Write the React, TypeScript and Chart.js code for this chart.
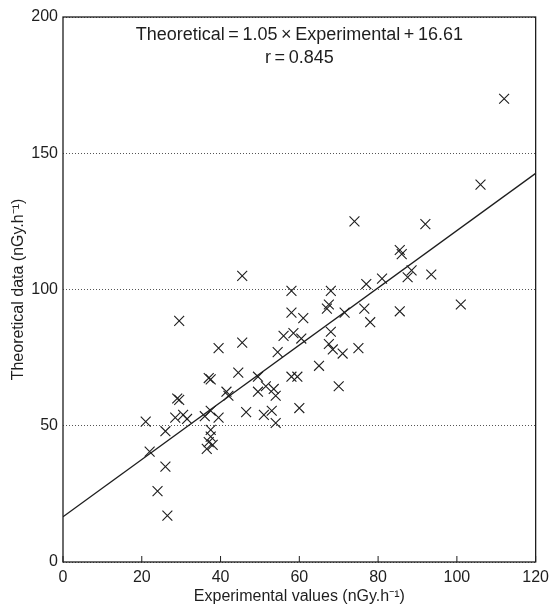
import React, { useEffect, useRef } from "react";
import { Chart, registerables } from "chart.js";

Chart.register(...registerables);

const expValues = [
  112, 106, 74, 92, 85.5, 86, 88.5, 87.5, 93.5, 81, 77, 101,
  45.5, 58, 68, 29.5, 58, 67.5, 67, 71.5, 76.5, 85.5, 78, 61,
  56, 58.5, 60.5, 68, 67.5, 68.5, 71, 75, 54.5, 65, 58, 59.5,
  70, 60, 39.5, 45.5, 44.5, 37, 37.5, 49.5, 41.5, 42, 49.5, 51.5,
  53.5, 54, 29, 29.5, 28.5, 30.5, 31.5, 36, 37.5, 39.5, 46.5, 51,
  53, 54, 21, 26, 37.5, 37.5, 37, 36.5, 38, 22, 26, 24, 26.5,
];
const theoValues = [
  170, 138.5, 125, 124, 114.5, 113, 107, 104.5, 105.5, 104, 102, 94.5,
  105, 99.5, 99.5, 88.5, 91.5, 94.5, 93, 91.5, 93, 92, 88, 89.5,
  83, 84, 82, 84.5, 80, 78, 76.5, 78.5, 77, 72, 68, 68,
  64.5, 56.5, 78.5, 80.5, 69.5, 67.5, 67, 68, 62.5, 61, 62.5, 64.5,
  63.5, 61, 60, 59.5, 53, 54, 52.5, 53.5, 55.5, 53, 55, 54,
  55.5, 51, 51.5, 48, 48.5, 46, 44, 41.5, 43, 40.5, 35, 26, 17,
];

// Regression line end points (Theoretical = 1.05 x Experimental + 16.61)
const fitX = [0, 120];
const fitY = [16.61, 142.61];

const xTickValues = [0, 20, 40, 60, 80, 100, 120];
const yTickValues = [0, 50, 100, 150, 200];

const equationText = "Theoretical\u2009=\u20091.05\u2009×\u2009Experimental\u2009+\u200916.61";
const correlationText = "r\u2009=\u20090.845";
const xTitle = "Experimental values (nGy.h⁻¹)";
const yTitle = "Theoretical data (nGy.h⁻¹)";

const FONT = '"Liberation Sans", Arial, Helvetica, sans-serif';
const INK = "#1e1e1e";

const framePlugin = {
  id: "frameAndLabels",
  afterDraw(chart: any) {
    const { ctx, chartArea: a, scales } = chart;
    ctx.save();
    ctx.strokeStyle = INK;
    ctx.lineWidth = 1.3;
    ctx.setLineDash([]);
    ctx.strokeRect(a.left, a.top, a.right - a.left, a.bottom - a.top);
    ctx.lineWidth = 1;
    xTickValues.forEach((v) => {
      const px = scales.x.getPixelForValue(v);
      ctx.beginPath();
      ctx.moveTo(px, a.bottom);
      ctx.lineTo(px, a.bottom - 6);
      ctx.stroke();
    });
    ctx.fillStyle = INK;
    ctx.font = `18px ${FONT}`;
    ctx.textAlign = "center";
    ctx.textBaseline = "middle";
    const cx = scales.x.getPixelForValue(60);
    ctx.fillText(equationText, cx, a.top + 18);
    ctx.fillText(correlationText, cx, a.top + 41);
    ctx.restore();
  },
};

export default function App() {
  const canvasRef = useRef<HTMLCanvasElement | null>(null);

  useEffect(() => {
    const canvas = canvasRef.current;
    if (!canvas) return;
    const points = expValues.map((x, i) => ({ x, y: theoValues[i] }));
    const fitPoints = fitX.map((x, i) => ({ x, y: fitY[i] }));

    const chart = new Chart(canvas, {
      type: "scatter",
      data: {
        datasets: [
          {
            type: "line",
            data: fitPoints,
            borderColor: INK,
            borderWidth: 1.3,
            pointRadius: 0,
            fill: false,
            order: 2,
          } as any,
          {
            type: "scatter",
            data: points,
            pointStyle: "crossRot",
            pointRadius: 7,
            pointBorderWidth: 1.1,
            borderColor: INK,
            backgroundColor: INK,
            order: 1,
          } as any,
        ],
      },
      options: {
        responsive: false,
        animation: false,
        layout: { padding: { top: 17, right: 19, left: 0, bottom: 0 } },
        plugins: {
          legend: { display: false },
          tooltip: { enabled: false },
        },
        scales: {
          x: {
            type: "linear",
            min: 0,
            max: 120,
            afterBuildTicks: (s: any) => {
              s.ticks = xTickValues.map((v) => ({ value: v }));
            },
            afterFit: (s: any) => {
              s.height = 46;
            },
            ticks: {
              color: INK,
              font: { family: FONT, size: 16 },
              padding: 6,
              maxRotation: 0,
            },
            grid: { display: false, drawTicks: false },
            border: { display: false },
            title: {
              display: true,
              text: xTitle,
              color: INK,
              font: { family: FONT, size: 16 },
              padding: { top: 0, bottom: 2 },
            },
          },
          y: {
            type: "linear",
            min: 0,
            max: 200,
            afterBuildTicks: (s: any) => {
              s.ticks = yTickValues.map((v) => ({ value: v }));
            },
            afterFit: (s: any) => {
              s.width = 63;
            },
            ticks: {
              color: INK,
              font: { family: FONT, size: 16 },
              padding: 5,
            },
            grid: {
              display: true,
              drawTicks: false,
              color: "#555",
              lineWidth: 1,
            },
            border: { display: false, dash: [1, 2] },
            title: {
              display: true,
              text: yTitle,
              color: INK,
              font: { family: FONT, size: 16 },
              padding: { top: 9, bottom: 0 },
            },
          },
        },
      },
      plugins: [framePlugin],
    });

    return () => {
      chart.destroy();
    };
  }, []);

  return (
    <div
      style={{
        position: "absolute",
        left: 0,
        top: 0,
        width: 555,
        height: 608,
        background: "#fff",
      }}
    >
      <canvas ref={canvasRef} width={555} height={608} style={{ display: "block" }} />
    </div>
  );
}
